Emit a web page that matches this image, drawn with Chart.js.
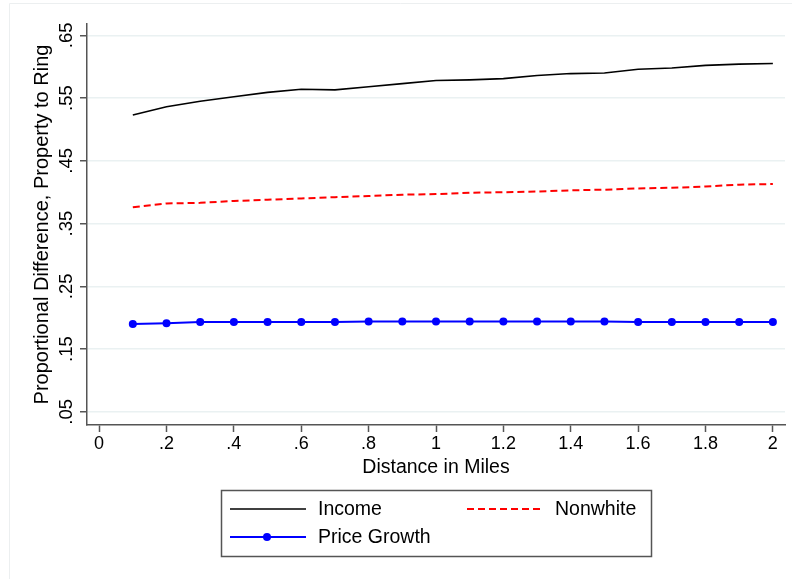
<!DOCTYPE html>
<html>
<head>
<meta charset="utf-8">
<script src="https://cdn.jsdelivr.net/npm/chart.js@4.4.1/dist/chart.umd.min.js"></script>
<style>
  html, body { margin: 0; padding: 0; background: #fff; }
  #wrap { position: relative; width: 792px; height: 579px; }
</style>
</head>
<body>
<div id="wrap"><canvas id="chart" width="792" height="579"></canvas></div>
<script>
// distance rings (miles)
const distance = [0.1, 0.2, 0.3, 0.4, 0.5, 0.6, 0.7, 0.8, 0.9, 1.0,
                  1.1, 1.2, 1.3, 1.4, 1.5, 1.6, 1.7, 1.8, 1.9, 2.0];

const income = [0.523, 0.536, 0.545, 0.552, 0.559, 0.564, 0.563, 0.568, 0.573, 0.578,
                0.579, 0.581, 0.586, 0.589, 0.590, 0.596, 0.598, 0.602, 0.604, 0.605];

const nonwhite = [0.376, 0.382, 0.383, 0.386, 0.388, 0.390, 0.392, 0.394, 0.396, 0.397,
                  0.399, 0.400, 0.401, 0.403, 0.404, 0.406, 0.407, 0.409, 0.412, 0.413];

const priceGrowth = [0.190, 0.191, 0.193, 0.193, 0.193, 0.193, 0.193, 0.194, 0.194, 0.194,
                     0.194, 0.194, 0.194, 0.194, 0.194, 0.193, 0.193, 0.193, 0.193, 0.193];

const xTicks = [0, 0.2, 0.4, 0.6, 0.8, 1, 1.2, 1.4, 1.6, 1.8, 2];
const xTickLabels = ["0", ".2", ".4", ".6", ".8", "1", "1.2", "1.4", "1.6", "1.8", "2"];
const yTicks = [0.05, 0.15, 0.25, 0.35, 0.45, 0.55, 0.65];
const yTickLabels = [".05", ".15", ".25", ".35", ".45", ".55", ".65"];

const FONT = "'Liberation Sans', Arial, Helvetica, sans-serif";
const AXIS = "#555555";

const pts = (ys) => distance.map((x, i) => ({ x: x, y: ys[i] }));

// rotated y tick labels, outer frame and the boxed legend
const stataBits = {
  id: "stataBits",
  beforeDraw(chart) {
    const c = chart.ctx;
    c.save();
    c.strokeStyle = "#eceff0";
    c.lineWidth = 1;
    c.beginPath();
    c.moveTo(9.5, 579); c.lineTo(9.5, 3.5); c.lineTo(792, 3.5);
    c.stroke();
    c.restore();
  },
  afterDraw(chart) {
    const c = chart.ctx;
    const ys = chart.scales.y;
    c.save();
    c.fillStyle = "#000";
    c.font = "18.5px " + FONT;
    c.textAlign = "center";
    c.textBaseline = "middle";
    yTicks.forEach((v, i) => {
      c.save();
      c.translate(66, ys.getPixelForValue(v));
      c.rotate(-Math.PI / 2);
      c.fillText(yTickLabels[i], 0, 1);
      c.restore();
    });

    // legend
    c.strokeStyle = AXIS;
    c.lineWidth = 1.5;
    c.strokeRect(221.5, 490.5, 430, 66);
    const ds = chart.data.datasets;
    const items = [
      { d: ds[0], x: 230, y: 509 },
      { d: ds[1], x: 467, y: 509 },
      { d: ds[2], x: 230, y: 537 },
    ];
    c.font = "19.5px " + FONT;
    c.textAlign = "left";
    items.forEach((it) => {
      c.save();
      c.strokeStyle = it.d.borderColor;
      c.lineWidth = it.d.borderWidth;
      c.setLineDash(it.d.borderDash || []);
      c.beginPath();
      c.moveTo(it.x, it.y);
      c.lineTo(it.x + 76, it.y);
      c.stroke();
      if (it.d.pointRadius > 0) {
        c.fillStyle = it.d.pointBackgroundColor;
        c.beginPath();
        c.arc(it.x + 37, it.y, it.d.pointRadius, 0, Math.PI * 2);
        c.fill();
      }
      c.restore();
      c.fillStyle = "#000";
      c.fillText(it.d.label, it.x + 88, it.y + 1);
    });
    c.restore();
  }
};

new Chart(document.getElementById("chart"), {
  type: "line",
  data: {
    datasets: [
      {
        label: "Income",
        data: pts(income),
        borderColor: "#000000",
        borderWidth: 1.6,
        pointRadius: 0,
        tension: 0,
      },
      {
        label: "Nonwhite",
        data: pts(nonwhite),
        borderColor: "#ff0000",
        borderWidth: 2,
        borderDash: [7, 4],
        pointRadius: 0,
        tension: 0,
      },
      {
        label: "Price Growth",
        data: pts(priceGrowth),
        borderColor: "#0000ff",
        borderWidth: 2,
        pointRadius: 4,
        pointBackgroundColor: "#0000ff",
        pointBorderWidth: 0,
        tension: 0,
      },
    ]
  },
  options: {
    responsive: false,
    animation: false,
    events: [],
    layout: { padding: { left: 0, right: 7, top: 24, bottom: 99 } },
    plugins: {
      legend: { display: false },
      tooltip: { enabled: false },
    },
    scales: {
      x: {
        type: "linear",
        min: -0.036,
        max: 2.036,
        afterBuildTicks: (s) => { s.ticks = xTicks.map((v) => ({ value: v })); },
        afterFit: (s) => { s.height = 55; },
        grid: { drawOnChartArea: false, drawTicks: true, tickLength: 7, tickColor: AXIS, tickWidth: 1.5 },
        border: { display: true, color: AXIS, width: 1.5 },
        ticks: {
          color: "#000",
          font: { family: FONT, size: 18 },
          padding: 1,
          maxRotation: 0,
          autoSkip: false,
          callback: (v, i) => xTickLabels[i],
        },
        title: {
          display: true,
          text: "Distance in Miles",
          color: "#000",
          font: { family: FONT, size: 19.5 },
          padding: { top: 0, bottom: 1 },
        },
      },
      y: {
        type: "linear",
        min: 0.029,
        max: 0.668,
        afterBuildTicks: (s) => { s.ticks = yTicks.map((v) => ({ value: v })); },
        afterFit: (s) => { s.width = 87; },
        grid: { color: "#eaf1f2", lineWidth: 1.5, drawTicks: true, tickLength: 7, tickColor: AXIS, tickWidth: 1.5 },
        border: { display: true, color: AXIS, width: 1.5 },
        ticks: { display: false },
        title: {
          display: true,
          text: "Proportional Difference, Property to Ring",
          color: "#000",
          font: { family: FONT, size: 20 },
          padding: { top: 30, bottom: 0 },
        },
      }
    }
  },
  plugins: [stataBits]
});
</script>
</body>
</html>
